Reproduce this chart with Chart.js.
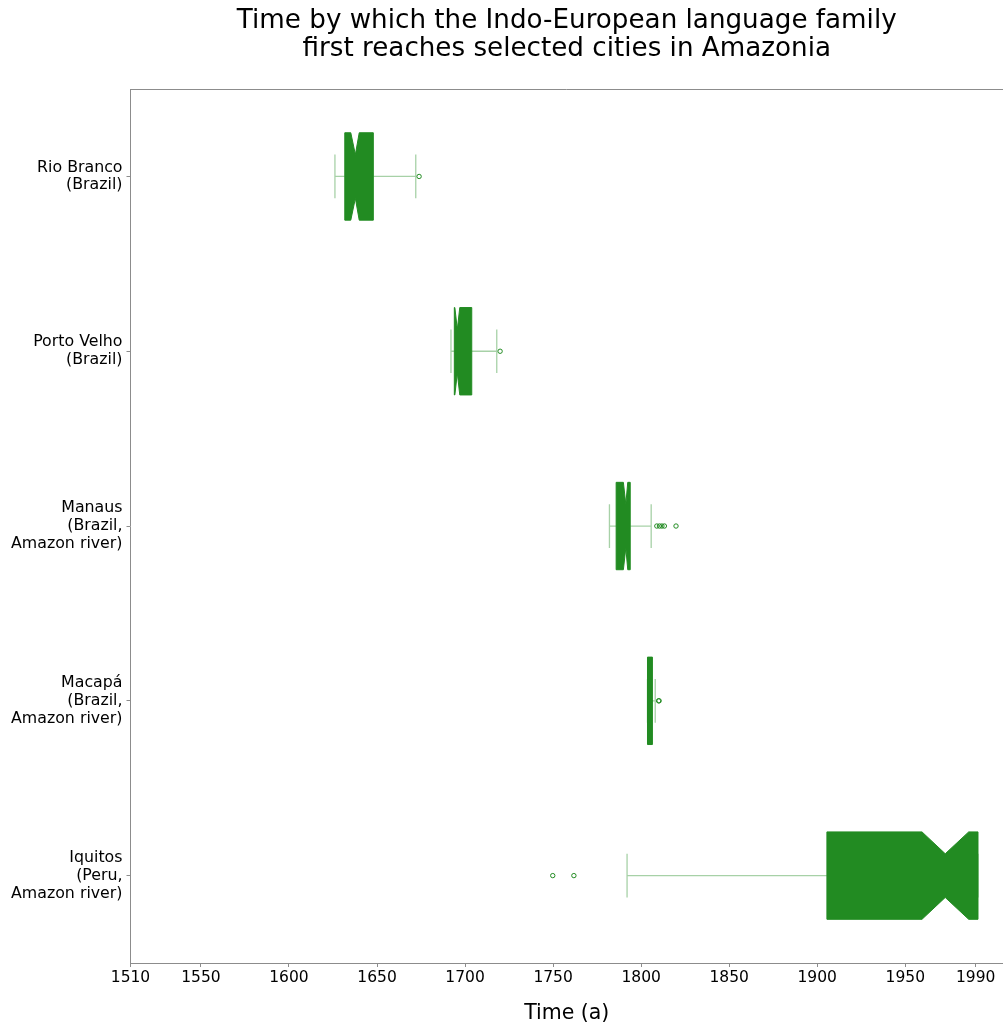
<!DOCTYPE html>
<html>
<head>
<meta charset="utf-8">
<script src="https://cdn.jsdelivr.net/npm/chart.js@4/dist/chart.umd.min.js"></script>
<style>
  html, body { margin: 0; padding: 0; background: #ffffff; }
  canvas { display: block; }
</style>
</head>
<body>
<canvas id="chart" width="1003" height="1026"></canvas>
<script>
// Cities, top to bottom (multi-line tick labels)
const cities = [
  ['Rio Branco', '(Brazil)'],
  ['Porto Velho', '(Brazil)'],
  ['Manaus', '(Brazil,', 'Amazon river)'],
  ['Macapá', '(Brazil,', 'Amazon river)'],
  ['Iquitos', '(Peru,', 'Amazon river)']
];

// Box statistics per city (years)
const whiskerLow  = [1626.1, 1692.0, 1782.0, 1803.6, 1792.0];
const q1          = [1631.7, 1693.9, 1785.8, 1803.6, 1905.5];
const notchLow    = [1635.1, 1694.2, 1789.9, 1805.0, 1959.5];
const median      = [1637.7, 1695.6, 1791.3, 1805.0, 1972.7];
const notchHigh   = [1639.9, 1697.0, 1792.4, 1805.0, 1986.0];
const q3          = [1647.9, 1703.8, 1793.8, 1806.4, 1991.3];
const whiskerHigh = [1672.0, 1718.0, 1805.7, 1808.0, 1991.3];

// Outlying runs per city
const outliers = [
  [1673.9],
  [1719.9],
  [1808.9, 1810.4, 1811.8, 1813.2, 1819.8],
  [1809.9, 1810.2],
  [1749.8, 1761.8]
];

const xTicks = [1510, 1550, 1600, 1650, 1700, 1750, 1800, 1850, 1900, 1950, 1990];

const BOX_COLOR = '#228B22';
const WHISKER_COLOR = 'rgba(34,139,34,0.40)';
const SPINE_COLOR = '#8c8c8c';
const BOX_WIDTH = 0.5;
const FONT = 'DejaVu Sans';

const outlierPoints = [];
outliers.forEach((vals, i) => vals.forEach(v => outlierPoints.push({ x: v, y: i })));

// Whiskers, caps and notched boxes, placed through the chart scales
const notchedBoxes = {
  id: 'notchedBoxes',
  beforeDatasetsDraw(chart) {
    const { ctx, scales: { x, y } } = chart;
    const px = v => x.getPixelForValue(v);
    ctx.save();
    cities.forEach((_, i) => {
      const yc = y.getPixelForValue(i);
      const half = Math.abs(y.getPixelForValue(i + BOX_WIDTH / 2) - yc);
      const waist = half / 2;

      ctx.strokeStyle = WHISKER_COLOR;
      ctx.lineWidth = 1.3;
      ctx.beginPath();
      ctx.moveTo(px(whiskerLow[i]), yc); ctx.lineTo(px(q1[i]), yc);
      ctx.moveTo(px(q3[i]), yc); ctx.lineTo(px(whiskerHigh[i]), yc);
      [whiskerLow[i], whiskerHigh[i]].forEach(v => {
        ctx.moveTo(px(v), yc - waist); ctx.lineTo(px(v), yc + waist);
      });
      ctx.stroke();

      const a = px(q1[i]), b = px(q3[i]);
      const nl = px(notchLow[i]), m = px(median[i]), nh = px(notchHigh[i]);
      ctx.beginPath();
      ctx.moveTo(a, yc - half);
      ctx.lineTo(nl, yc - half);
      ctx.lineTo(m, yc - waist);
      ctx.lineTo(nh, yc - half);
      ctx.lineTo(b, yc - half);
      ctx.lineTo(b, yc + half);
      ctx.lineTo(nh, yc + half);
      ctx.lineTo(m, yc + waist);
      ctx.lineTo(nl, yc + half);
      ctx.lineTo(a, yc + half);
      ctx.closePath();
      ctx.fillStyle = BOX_COLOR;
      ctx.fill();
      ctx.strokeStyle = BOX_COLOR;
      ctx.lineWidth = 1;
      ctx.stroke();
    });
    ctx.restore();
  }
};

// Top spine of the plot frame
const topSpine = {
  id: 'topSpine',
  afterDraw(chart) {
    const { ctx, chartArea: ca } = chart;
    ctx.save();
    ctx.strokeStyle = SPINE_COLOR;
    ctx.lineWidth = 1;
    const yTop = Math.round(ca.top) + 0.5;
    ctx.beginPath();
    ctx.moveTo(ca.left, yTop);
    ctx.lineTo(ca.right, yTop);
    ctx.stroke();
    ctx.restore();
  }
};

new Chart(document.getElementById('chart'), {
  type: 'scatter',
  data: {
    datasets: [{
      label: 'outliers',
      data: outlierPoints,
      pointStyle: 'circle',
      pointRadius: 2.2,
      pointBorderWidth: 1,
      pointBorderColor: BOX_COLOR,
      pointBackgroundColor: 'rgba(255,255,255,0)',
      pointHoverRadius: 2.2
    }]
  },
  options: {
    responsive: false,
    animation: false,
    devicePixelRatio: 1,
    layout: { autoPadding: false, padding: { left: 0, right: 0, top: 0, bottom: 0 } },
    plugins: {
      legend: { display: false },
      tooltip: { enabled: false },
      title: {
        display: true,
        fullSize: false,
        text: ['Time by which the Indo-European language family', 'first reaches selected cities in Amazonia'],
        color: '#000000',
        font: { family: FONT, size: 26.2, weight: 'normal', lineHeight: 1.07 },
        padding: { top: 7, bottom: 26 }
      }
    },
    scales: {
      x: {
        type: 'linear',
        position: 'bottom',
        min: 1510,
        max: 2005.5,
        afterFit(scale) { scale.height = 63; },
        afterBuildTicks(scale) { scale.ticks = xTicks.map(v => ({ value: v })); },
        ticks: {
          color: '#000000',
          font: { family: FONT, size: 15.5 },
          padding: 2,
          maxRotation: 0,
          autoSkip: false,
          callback: v => String(v)
        },
        grid: { display: true, drawOnChartArea: false, drawTicks: true, tickLength: 4, color: SPINE_COLOR },
        border: { display: true, color: SPINE_COLOR, width: 1 },
        title: {
          display: true,
          text: 'Time (a)',
          color: '#000000',
          font: { family: FONT, size: 20.5 },
          padding: { top: 0, bottom: 0 }
        }
      },
      y: {
        type: 'linear',
        position: 'left',
        reverse: true,
        min: -0.5,
        max: 4.5,
        afterFit(scale) { scale.width = 130.5; },
        afterBuildTicks(scale) { scale.ticks = cities.map((_, i) => ({ value: i })); },
        ticks: {
          color: '#000000',
          font: { family: FONT, size: 15.8, lineHeight: 1.13 },
          padding: 4,
          autoSkip: false,
          callback: v => cities[v]
        },
        grid: { display: true, drawOnChartArea: false, drawTicks: true, tickLength: 4, color: SPINE_COLOR },
        border: { display: true, color: SPINE_COLOR, width: 1 }
      }
    }
  },
  plugins: [notchedBoxes, topSpine]
});
</script>
</body>
</html>
